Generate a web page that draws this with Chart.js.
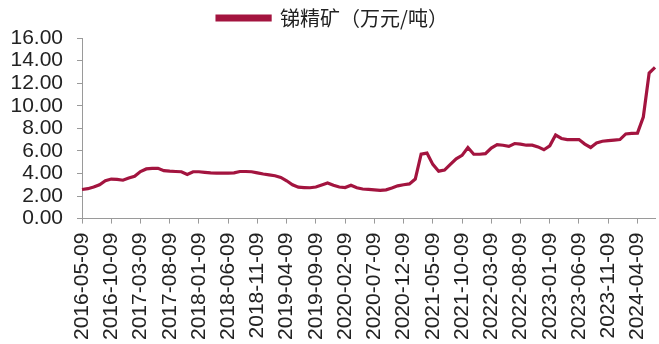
<!DOCTYPE html>
<html>
<head>
<meta charset="utf-8">
<script src="https://cdn.jsdelivr.net/npm/chart.js@4/dist/chart.umd.min.js"></script>
<style>
  html, body { margin: 0; padding: 0; background: #fff; }
  #wrap { width: 659px; height: 344px; position: relative; }
</style>
</head>
<body>
<div id="wrap"><canvas id="priceChart"></canvas></div>
<script>
// ─── Data ─────────────────────────────────────────────────────────────────────
const seriesName = '锑精矿（万元/吨）';
const startYear  = 2016;
const startMonth = 5;      // first category: 2016-05-09
const labelEvery = 5;      // a tick label every 5 months

// monthly reading, 2016-05 .. 2024-07
const antimonyPrice = [
  2.58, 2.65, 2.80, 3.00, 3.35, 3.50, 3.48, 3.40, 3.60, 3.75,  // 2016-05 .. 2017-02
  4.17, 4.40, 4.45, 4.46, 4.25, 4.20, 4.17, 4.15, 3.90, 4.15,  // 2017-03 .. 2017-12
  4.15, 4.10, 4.05, 4.03, 4.03, 4.03, 4.05, 4.17, 4.17, 4.15,  // 2018-01 .. 2018-10
  4.05, 3.95, 3.88, 3.80, 3.65, 3.35, 3.00, 2.78, 2.75, 2.73,  // 2018-11 .. 2019-08
  2.80, 2.98, 3.16, 2.95, 2.80, 2.75, 2.96, 2.73, 2.62, 2.58,  // 2019-09 .. 2020-06
  2.55, 2.50, 2.55, 2.70, 2.90, 3.00, 3.07, 3.50, 5.70, 5.80,  // 2020-07 .. 2021-04
  4.80, 4.20, 4.30, 4.80, 5.30, 5.60, 6.30, 5.70, 5.70, 5.75,  // 2021-05 .. 2022-02
  6.25, 6.55, 6.50, 6.40, 6.65, 6.60, 6.50, 6.50, 6.35, 6.10,  // 2022-03 .. 2022-12
  6.45, 7.40, 7.10, 7.00, 7.00, 7.00, 6.60, 6.30, 6.70, 6.85,  // 2023-01 .. 2023-10
  6.90, 6.95, 7.00, 7.50, 7.55, 7.57, 9.00, 12.90, 13.40       // 2023-11 .. 2024-07
];

const yMin  = 0;
const yMax  = 16;
const yStep = 2;

// category labels, one per month
const monthLabels = antimonyPrice.map((_, i) => {
  const m  = startMonth - 1 + i;
  const y  = startYear + Math.floor(m / 12);
  const mm = String((m % 12) + 1).padStart(2, '0');
  return `${y}-${mm}-09`;
});

// ─── Chart ────────────────────────────────────────────────────────────────────
const lineColor = '#A3143F';
const axisColor = '#9a9a9a';
const textColor = '#222222';

new Chart(document.getElementById('priceChart'), {
  type: 'line',
  data: {
    labels: monthLabels,
    datasets: [{
      label:           seriesName,
      data:            antimonyPrice,
      borderColor:     lineColor,
      backgroundColor: lineColor,
      borderWidth:     3.2,
      pointRadius:     0,
      tension:         0,
      fill:            false,
    }],
  },
  options: {
    responsive: true,
    maintainAspectRatio: false,
    animation: false,
    // left padding nudges the centred legend right; the y axis width is fixed below
    layout: { padding: { left: 10, right: 4, top: 2, bottom: -5 } },
    plugins: {
      tooltip: { enabled: false },
      legend: {
        display: true,
        position: 'top',
        labels: {
          color:     textColor,
          boxWidth:  53,
          boxHeight: 4,
          padding:   6,
          font: { family: 'Noto Sans CJK SC, sans-serif', size: 20 },
        },
      },
    },
    scales: {
      x: {
        offset: false,
        // the last rotated label has no text, so no room is kept for it
        afterFit: scale => { scale.paddingRight = 0; },
        border: { display: true, color: axisColor, width: 1 },
        grid: {
          display: true,
          drawOnChartArea: false,
          drawTicks: true,
          tickLength: 5,
          color: axisColor,
        },
        ticks: {
          autoSkip:    false,
          minRotation: 90,
          maxRotation: 90,
          padding:     9,
          color:       textColor,
          font:        { family: 'Liberation Sans, Arial, sans-serif', size: 21 },
          callback: (v, i) => (i % labelEvery === 0 ? monthLabels[i] : null),
        },
      },
      y: {
        min: yMin,
        max: yMax,
        afterFit: scale => { scale.width = 72; },
        border: { display: true, color: axisColor, width: 1 },
        grid: {
          display: true,
          drawOnChartArea: false,
          drawTicks: true,
          tickLength: 5,
          color: axisColor,
        },
        ticks: {
          autoSkip: false,
          stepSize: yStep,
          padding:  14,
          color:    textColor,
          font:     { family: 'Liberation Sans, Arial, sans-serif', size: 21 },
          callback: v => Number(v).toFixed(2),
        },
      },
    },
  },
});
</script>
</body>
</html>
